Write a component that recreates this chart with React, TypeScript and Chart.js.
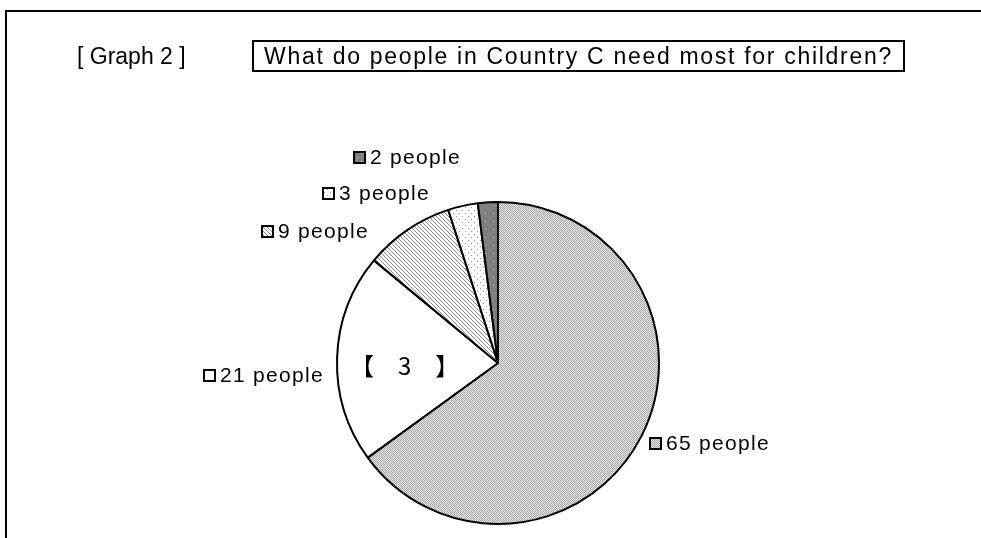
import React, { useEffect, useRef } from "react";
import { Chart, registerables } from "chart.js";

Chart.register(...registerables);

// ---- data ----
const categories = ["65 people", "21 people", "9 people", "3 people", "2 people"];
const values = [65, 21, 9, 3, 2];
const fillKinds = ["checker", "white", "hatch", "sparseDots", "darkDots"];
const titleTag = "[ Graph 2 ]";
const titleText = "What do people in Country C need most for children?";
const sliceNote = "【　3　】";
const noteIndex = 1;
// label anchors relative to the pie centre, in radius units
const labelDx = [0.944, -1.826, -1.466, -1.087, -0.894];
const labelDy = [0.497, 0.075, -0.82, -1.056, -1.28];

function makePattern(kind: string): CanvasPattern | string {
  if (kind === "white") return "#ffffff";
  const c = document.createElement("canvas");
  const ctx = c.getContext("2d")!;
  const px = (x: number, y: number, col: string) => {
    ctx.fillStyle = col;
    ctx.fillRect(x, y, 1, 1);
  };
  if (kind === "checker") {
    c.width = 2; c.height = 2;
    ctx.fillStyle = "#e6e6e6"; ctx.fillRect(0, 0, 2, 2);
    px(0, 0, "#a8a8a8"); px(1, 1, "#a8a8a8");
  } else if (kind === "hatch") {
    c.width = 4; c.height = 4;
    ctx.fillStyle = "#ffffff"; ctx.fillRect(0, 0, 4, 4);
    for (let i = 0; i < 4; i++) px(i, i, "#8c8c8c");
  } else if (kind === "sparseDots") {
    c.width = 6; c.height = 6;
    ctx.fillStyle = "#ffffff"; ctx.fillRect(0, 0, 6, 6);
    px(0, 0, "#9a9a9a"); px(3, 3, "#9a9a9a");
  } else {
    c.width = 8; c.height = 8;
    ctx.fillStyle = "#7f7f7f"; ctx.fillRect(0, 0, 8, 8);
    px(1, 1, "#ffffff"); px(5, 5, "#ffffff");
  }
  return ctx.createPattern(c, "repeat")!;
}

export default function App() {
  const ref = useRef<HTMLCanvasElement | null>(null);

  useEffect(() => {
    const canvas = ref.current;
    if (!canvas) return;
    const fills = fillKinds.map(makePattern);

    const labelPlugin = {
      id: "sliceLabels",
      afterDatasetsDraw(chart: any) {
        const ctx = chart.ctx as any;
        const meta = chart.getDatasetMeta(0);
        const first = meta.data[0] as any;
        const cx = first.x, cy = first.y, R = first.outerRadius;
        ctx.save();
        ctx.font = "21px 'Liberation Sans', Arial, sans-serif";
        ctx.letterSpacing = "1.3px";
        ctx.textBaseline = "middle";
        ctx.textAlign = "left";
        categories.forEach((lab, i) => {
          const x = Math.round(cx + labelDx[i] * R);
          const y = Math.round(cy + labelDy[i] * R);
          ctx.fillStyle = fills[i];
          ctx.fillRect(x, y - 5, 11, 11);
          ctx.lineWidth = 2;
          ctx.strokeStyle = "#000";
          ctx.strokeRect(x, y - 5, 11, 11);
          ctx.fillStyle = "#000";
          ctx.fillText(lab, x + 16, y + 1);
        });
        const arc = meta.data[noteIndex] as any;
        const mid = (arc.startAngle + arc.endAngle) / 2;
        const r = 0.58 * R;
        ctx.letterSpacing = "0px";
        ctx.font = "24px 'Noto Sans CJK JP', sans-serif";
        ctx.textAlign = "center";
        ctx.fillText(sliceNote, cx + Math.cos(mid) * r, cy + Math.sin(mid) * r + 6);
        ctx.restore();
      },
    };

    const chart = new Chart(canvas, {
      type: "pie",
      data: {
        labels: categories,
        datasets: [
          {
            data: values,
            backgroundColor: fills as any,
            borderColor: "#000000",
            borderWidth: 2,
          },
        ],
      },
      options: {
        responsive: false,
        animation: false,
        events: [],
        layout: { padding: { left: 336, right: 321, top: 201, bottom: 13 } },
        plugins: {
          legend: { display: false },
          tooltip: { enabled: false },
          title: { display: false },
        },
      },
      plugins: [labelPlugin],
    });
    return () => chart.destroy();
  }, []);

  return (
    <div
      style={{
        position: "fixed",
        left: 0,
        top: 0,
        width: 981,
        height: 538,
        overflow: "hidden",
        background: "#fff",
        fontFamily: "'Liberation Sans', Arial, sans-serif",
      }}
    >
      <canvas ref={ref} width={981} height={538} style={{ position: "absolute", left: 0, top: 0 }} />
      <div
        style={{
          position: "absolute",
          left: 5,
          top: 10,
          width: 1000,
          height: 600,
          borderTop: "2px solid #000",
          borderLeft: "2px solid #000",
        }}
      />
      <div
        style={{
          position: "absolute",
          left: 77,
          top: 40,
          height: 32,
          lineHeight: "32px",
          fontSize: 23,
          color: "#000",
          whiteSpace: "pre",
        }}
      >
        {titleTag}
      </div>
      <div
        style={{
          position: "absolute",
          left: 252,
          top: 40,
          width: 649,
          height: 28,
          lineHeight: "28px",
          border: "2px solid #000",
          fontSize: 23,
          letterSpacing: "1.7px",
          color: "#000",
          textAlign: "center",
          whiteSpace: "nowrap",
        }}
      >
        {titleText}
      </div>
    </div>
  );
}
